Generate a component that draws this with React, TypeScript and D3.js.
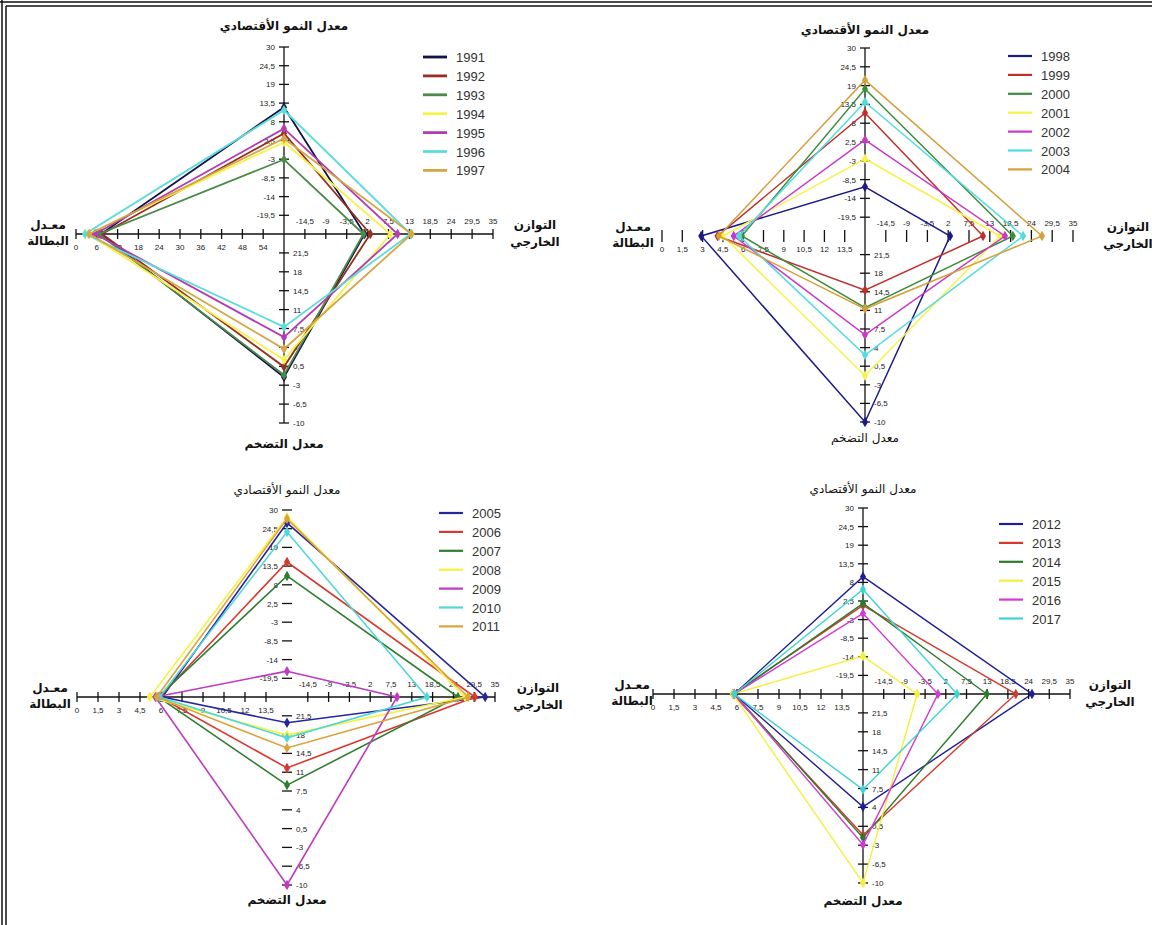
import React from 'react';
import * as d3 from 'd3';

// ---- data (in the axis units) ----
const years1 = ['1991', '1992', '1993', '1994', '1995', '1996', '1997'];
const growth1 = [12.3, 4.6, -3.1, 2.0, 6.0, 11.4, 3.1];
const balance1 = [1.2, 2.7, 0.9, 8.0, 9.9, 13.3, 13.6];
const inflation1 = [-1.5, 0.4, -1.1, 1.7, 5.9, 7.8, 3.7];
const unemp1 = [7.2, 7.5, 6.6, 3.5, 5.5, 2.6, 3.8];

const years2 = ['1998', '1999', '2000', '2001', '2002', '2003', '2004'];
const growth2 = [-10.6, 11.0, 18.0, -2.4, 3.1, 14.2, 20.6];
const balance2 = [2.5, 11.2, 19.1, 15.7, 17.0, 21.8, 26.8];
const inflation2 = [-10, 14.8, 11.5, -1.3, 6.4, 2.6, 11.3];
const unemp2 = [2.9, 4.1, 5.9, 4.5, 5.3, 5.7, 4.2];

const years3 = ['2005', '2006', '2007', '2008', '2009', '2010', '2011'];
const growth3 = [26.2, 14.7, 10.6, 27.9, -17.4, 23.5, 27.4];
const balance3 = [32.4, 29.7, 25.2, 27.1, 9.1, 17.0, 27.9];
const inflation3 = [20.2, 11.8, 8.6, 17.9, -10, 17.4, 15.5];
const unemp3 = [6.1, 5.9, 5.8, 5.2, 5.6, 5.9, 5.7];

const years4 = ['2012', '2013', '2014', '2015', '2016', '2017'];
const growth4 = [9.7, 1.2, 1.8, -13.8, -1.2, 5.9];
const balance4 = [24.9, 20.6, 12.9, -5.6, -0.1, 5.0];
const inflation4 = [4.1, -1.1, -1.6, -10, -2.9, 7.3];
const unemp4 = [5.8, 5.7, 5.8, 5.7, 5.8, 5.8];

// tick labels, from the centre outwards
const growthTicks = [-19.5, -14, -8.5, -3, 2.5, 8, 13.5, 19, 24.5, 30];
const balanceTicks = [-14.5, -9, -3.5, 2, 7.5, 13, 18.5, 24, 29.5, 35];
const inflationTicks = [21.5, 18, 14.5, 11, 7.5, 4, 0.5, -3, -6.5, -10];
const unempTicksA = [54, 48, 42, 36, 30, 24, 18, 12, 6, 0];
const unempTicksB = [13.5, 12, 10.5, 9, 7.5, 6, 4.5, 3, 1.5, 0];

const colors1 = ['#131347', '#93301f', '#4a8a4a', '#f5f24a', '#b23cb2', '#5cdcdc', '#d6a646'];
const colors2 = ['#1b1b86', '#c0302a', '#3c8c3c', '#f7f348', '#c73ac7', '#52dcdc', '#d4a03c'];
const colors3 = ['#25259c', '#d8382e', '#2f7d2f', '#f5f23e', '#bf3abf', '#4ed8d8', '#dba33a'];
const colors4 = ['#1e1e96', '#d33a2c', '#2c7a2c', '#f4f03a', '#d23ad2', '#3fd4d4'];

const AR = '"DejaVu Sans", sans-serif';
const LAT = '"Liberation Sans", Arial, sans-serif';

const fmt = (v: number) => String(v).replace('.', ',');

const panels = [
  {
    years: years1, growth: growth1, balance: balance1, inflation: inflation1, unemp: unemp1,
    colors: colors1, unempCenter: 60, unempTicks: unempTicksA,
    cx: 284, cy: 234, left: 208, right: 209, up: 187, down: 189,
    legendX: 423, legendY: 57, showH: true, showV: true, sw: 1.8, lw: 2.8,
    topY: 30, botY: 448, sideL: 48, sideR: 535, boldTop: true, boldBot: true,
  },
  {
    years: years2, growth: growth2, balance: balance2, inflation: inflation2, unemp: unemp2,
    colors: colors2, unempCenter: 15, unempTicks: unempTicksB,
    cx: 865, cy: 236, left: 203, right: 208, up: 188, down: 186,
    legendX: 1008, legendY: 56, showH: false, showV: true, sw: 1.5, lw: 2.2,
    topY: 34, botY: 442, sideL: 633, sideR: 1128, boldTop: true, boldBot: false,
  },
  {
    years: years3, growth: growth3, balance: balance3, inflation: inflation3, unemp: unemp3,
    colors: colors3, unempCenter: 15, unempTicks: unempTicksB,
    cx: 287, cy: 697, left: 210, right: 208, up: 187, down: 188,
    legendX: 439, legendY: 513, showH: true, showV: false, sw: 1.6, lw: 2.2,
    topY: 494, botY: 904, sideL: 50, sideR: 538, boldTop: false, boldBot: true,
  },
  {
    years: years4, growth: growth4, balance: balance4, inflation: inflation4, unemp: unemp4,
    colors: colors4, unempCenter: 15, unempTicks: unempTicksB,
    cx: 863, cy: 694, left: 210, right: 207, up: 186, down: 189,
    legendX: 999, legendY: 524, showH: true, showV: true, sw: 1.4, lw: 2.2,
    topY: 493, botY: 905, sideL: 632, sideR: 1110, boldTop: false, boldBot: true,
  },
];

function Panel({ p }: { p: any }) {
  const { cx, cy } = p;
  const top = d3.scaleLinear().domain([-25, 30]).range([0, p.up]);
  const right = d3.scaleLinear().domain([-20, 35]).range([0, p.right]);
  const bottom = d3.scaleLinear().domain([25, -10]).range([0, p.down]);
  const left = d3.scaleLinear().domain([p.unempCenter, 0]).range([0, p.left]);
  const line = d3.line().curve(d3.curveLinearClosed);
  const marker = d3.symbol().type(d3.symbolDiamond).size(32);
  const tickLen = p.showH ? 5 : 6;

  const series = p.years.map((y: string, i: number) => {
    const pts: [number, number][] = [
      [cx, cy - top(p.growth[i])],
      [cx + right(p.balance[i]), cy],
      [cx, cy + bottom(p.inflation[i])],
      [cx - left(p.unemp[i]), cy],
    ];
    return { y, pts, color: p.colors[i] };
  });

  return (
    <g>
      {/* axes */}
      {p.showH && (
        <line x1={cx - p.left} x2={cx + p.right} y1={cy} y2={cy} stroke="#111" strokeWidth={1.3} />
      )}
      {p.showV && (
        <line x1={cx} x2={cx} y1={cy - p.up} y2={cy + p.down} stroke="#111" strokeWidth={1.3} />
      )}
      {growthTicks.map((t) => (
        <g key={'g' + t}>
          <line x1={cx - 5} x2={cx + 5} y1={cy - top(t)} y2={cy - top(t)} stroke="#111" strokeWidth={1.3} />
          <text x={cx - 9} y={cy - top(t) + 3} fontSize={8} fontFamily={LAT} textAnchor="end" fill="#222">{fmt(t)}</text>
        </g>
      ))}
      {inflationTicks.map((t) => (
        <g key={'i' + t}>
          <line x1={cx - 5} x2={cx + 5} y1={cy + bottom(t)} y2={cy + bottom(t)} stroke="#111" strokeWidth={1.3} />
          <text x={cx + 9} y={cy + bottom(t) + 3} fontSize={8} fontFamily={LAT} textAnchor="start" fill="#222">{fmt(t)}</text>
        </g>
      ))}
      {balanceTicks.map((t) => (
        <g key={'b' + t}>
          <line x1={cx + right(t)} x2={cx + right(t)} y1={cy - tickLen} y2={cy + tickLen} stroke="#111" strokeWidth={1.3} />
          <text x={cx + right(t)} y={cy - 10} fontSize={8} fontFamily={LAT} textAnchor="middle" fill="#222">{fmt(t)}</text>
        </g>
      ))}
      {p.unempTicks.map((t: number) => (
        <g key={'u' + t}>
          <line x1={cx - left(t)} x2={cx - left(t)} y1={cy - tickLen} y2={cy + tickLen} stroke="#111" strokeWidth={1.3} />
          <text x={cx - left(t)} y={cy + 16} fontSize={8} fontFamily={LAT} textAnchor="middle" fill="#222">{fmt(t)}</text>
        </g>
      ))}

      {/* series */}
      {series.map((s: any) => (
        <g key={s.y}>
          <path d={line(s.pts) as string} fill="none" stroke={s.color} strokeWidth={p.sw} strokeLinejoin="miter" />
          {s.pts.map((pt: [number, number], k: number) => (
            <path key={k} d={marker() as string} transform={`translate(${pt[0]},${pt[1]})`} fill={s.color} />
          ))}
        </g>
      ))}

      {/* axis titles */}
      <text x={cx} y={p.topY} fontFamily={AR} fontSize={12} fontWeight={p.boldTop ? 'bold' : 'normal'} textAnchor="middle" fill="#111">معدل النمو الأقتصادي</text>
      <text x={cx} y={p.botY} fontFamily={AR} fontSize={12} fontWeight={p.boldBot ? 'bold' : 'normal'} textAnchor="middle" fill="#111">معدل التضخم</text>
      <text x={p.sideL} y={cy - 5} fontFamily={AR} fontSize={12} fontWeight="bold" textAnchor="middle" fill="#111">معـدل</text>
      <text x={p.sideL} y={cy + 11} fontFamily={AR} fontSize={12} fontWeight="bold" textAnchor="middle" fill="#111">البطالة</text>
      <text x={p.sideR} y={cy - 5} fontFamily={AR} fontSize={12} fontWeight="bold" textAnchor="middle" fill="#111">التوازن</text>
      <text x={p.sideR} y={cy + 12} fontFamily={AR} fontSize={12} fontWeight="bold" textAnchor="middle" fill="#111">الخارجي</text>

      {/* legend */}
      {series.map((s: any, i: number) => (
        <g key={'l' + s.y} transform={`translate(${p.legendX},${p.legendY + i * 18.9})`}>
          <line x1={0} x2={24} y1={0} y2={0} stroke={s.color} strokeWidth={p.lw} />
          <text x={33} y={5} fontFamily={LAT} fontSize={13} fill="#333">{s.y}</text>
        </g>
      ))}
    </g>
  );
}

export default function App() {
  const W = 1152;
  const H = 925;
  return (
    <div>
      <style>{`body { margin: 0; }`}</style>
      <svg width={W} height={H} style={{ display: 'block', background: '#fff' }}>
        {/* double frame, top and left */}
        <line x1={0} x2={W} y1={2} y2={2} stroke="#111" strokeWidth={1.5} />
        <line x1={6} x2={W} y1={6} y2={6} stroke="#111" strokeWidth={1.5} />
        <line x1={2} x2={2} y1={0} y2={H} stroke="#111" strokeWidth={1.5} />
        <line x1={6} x2={6} y1={6} y2={H} stroke="#111" strokeWidth={1.5} />
        {panels.map((p, i) => (
          <Panel key={i} p={p} />
        ))}
      </svg>
    </div>
  );
}
